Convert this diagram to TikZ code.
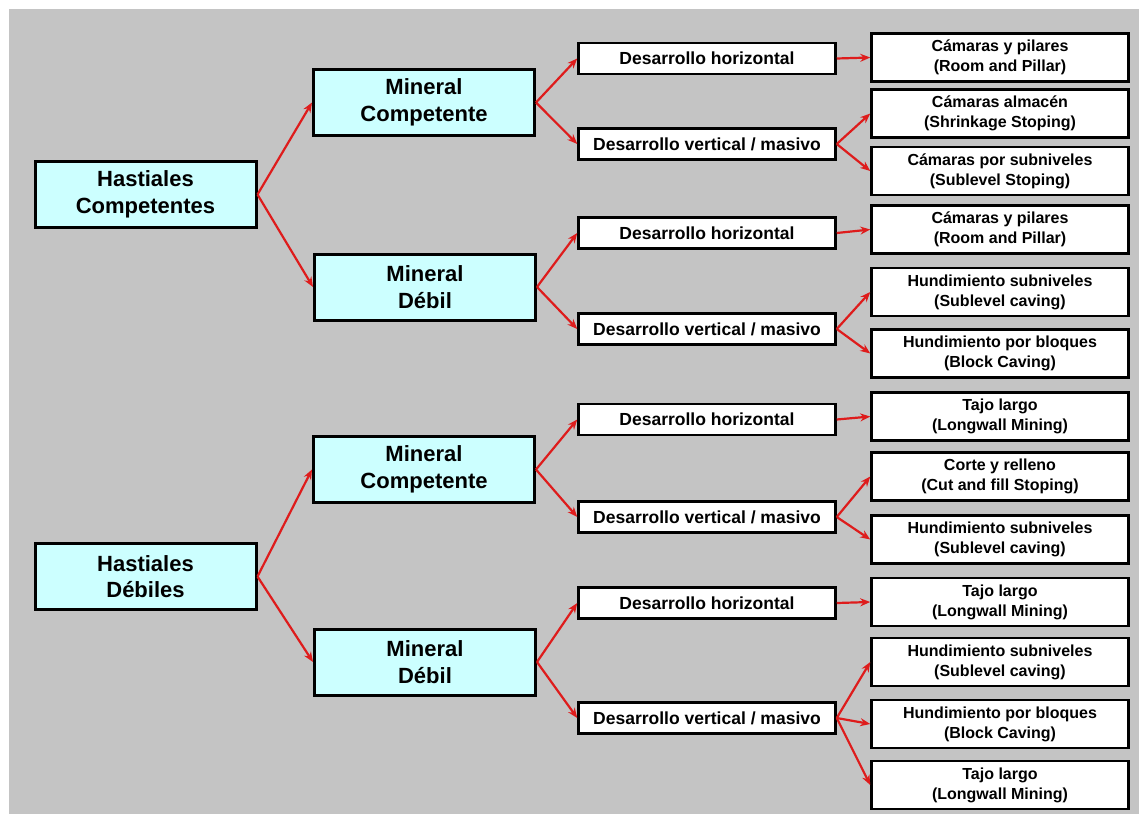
\documentclass[tikz,border=0pt]{standalone}
\usepackage{fontspec}
\setmainfont{Liberation Sans}
\usetikzlibrary{arrows.meta}
\definecolor{bggray}{RGB}{196,196,196}
\definecolor{cyanfill}{RGB}{204,255,255}
\definecolor{arrred}{RGB}{222,28,28}
\begin{document}
\begin{tikzpicture}[x=1pt,y=-1pt,
  big/.style={draw=black, line width=3pt, fill=cyanfill, minimum width=221pt, minimum height=66pt, inner sep=0pt, align=center, font=\fontsize{22}{26.5}\selectfont\bfseries},
  mid/.style={draw=black, line width=2.5pt, fill=white, minimum width=257pt, minimum height=31pt, inner sep=0pt, font=\fontsize{17.5}{20}\selectfont\bfseries},
  fin/.style={draw=black, line width=2.5pt, fill=white, minimum width=257pt, minimum height=48pt, inner sep=0pt, align=center, font=\fontsize{16}{20}\selectfont\bfseries},
  conn/.style={draw=arrred, line width=2.2pt, -{Stealth[length=10pt,width=8pt]}}
]
\useasboundingbox (0,0) rectangle (1139,814);
\fill[white] (0,0) rectangle (1139,814);
\fill[bggray] (9,9) rectangle (1139,814);

% level 1
\node[big] (hc) at (145.5,194.5) {Hastiales\\Competentes};
\node[big] (hd) at (145.5,576.5) {Hastiales\\Débiles};
% level 2
\node[big] (mc1) at (424,102.5) {Mineral\\Competente};
\node[big] (md1) at (425,287) {Mineral\\Débil};
\node[big] (mc2) at (424,469.5) {Mineral\\Competente};
\node[big] (md2) at (425,662) {Mineral\\Débil};
% level 3
\node[mid] (dh1) at (707,58.5) {Desarrollo horizontal};
\node[mid] (dv1) at (707,144) {Desarrollo vertical / masivo};
\node[mid] (dh2) at (707,233) {Desarrollo horizontal};
\node[mid] (dv2) at (707,329) {Desarrollo vertical / masivo};
\node[mid] (dh3) at (707,419.5) {Desarrollo horizontal};
\node[mid] (dv3) at (707,517) {Desarrollo vertical / masivo};
\node[mid] (dh4) at (707,603) {Desarrollo horizontal};
\node[mid] (dv4) at (707,718) {Desarrollo vertical / masivo};
% level 4
\node[fin] (f1) at (1000,57.5) {Cámaras y pilares\\(Room and Pillar)};
\node[fin] (f2) at (1000,113.5) {Cámaras almacén\\(Shrinkage Stoping)};
\node[fin] (f3) at (1000,171) {Cámaras por subniveles\\(Sublevel Stoping)};
\node[fin] (f4) at (1000,229.5) {Cámaras y pilares\\(Room and Pillar)};
\node[fin] (f5) at (1000,292) {Hundimiento subniveles\\(Sublevel caving)};
\node[fin] (f6) at (1000,353.5) {Hundimiento por bloques\\(Block Caving)};
\node[fin] (f7) at (1000,416.5) {Tajo largo\\(Longwall Mining)};
\node[fin] (f8) at (1000,476.5) {Corte y relleno\\(Cut and fill Stoping)};
\node[fin] (f9) at (1000,539.5) {Hundimiento subniveles\\(Sublevel caving)};
\node[fin] (f10) at (1000,602) {Tajo largo\\(Longwall Mining)};
\node[fin] (f11) at (1000,662) {Hundimiento subniveles\\(Sublevel caving)};
\node[fin] (f12) at (1000,724) {Hundimiento por bloques\\(Block Caving)};
\node[fin] (f13) at (1000,785) {Tajo largo\\(Longwall Mining)};

% connectors
\draw[conn] (hc.east) -- (mc1.west);
\draw[conn] (hc.east) -- (md1.west);
\draw[conn] (hd.east) -- (mc2.west);
\draw[conn] (hd.east) -- (md2.west);

\draw[conn] (mc1.east) -- (dh1.west);
\draw[conn] (mc1.east) -- (dv1.west);
\draw[conn] (md1.east) -- (dh2.west);
\draw[conn] (md1.east) -- (dv2.west);
\draw[conn] (mc2.east) -- (dh3.west);
\draw[conn] (mc2.east) -- (dv3.west);
\draw[conn] (md2.east) -- (dh4.west);
\draw[conn] (md2.east) -- (dv4.west);

\draw[conn] (dh1.east) -- (f1.west);
\draw[conn] (dv1.east) -- (f2.west);
\draw[conn] (dv1.east) -- (f3.west);
\draw[conn] (dh2.east) -- (f4.west);
\draw[conn] (dv2.east) -- (f5.west);
\draw[conn] (dv2.east) -- (f6.west);
\draw[conn] (dh3.east) -- (f7.west);
\draw[conn] (dv3.east) -- (f8.west);
\draw[conn] (dv3.east) -- (f9.west);
\draw[conn] (dh4.east) -- (f10.west);
\draw[conn] (dv4.east) -- (f11.west);
\draw[conn] (dv4.east) -- (f12.west);
\draw[conn] (dv4.east) -- (f13.west);
\end{tikzpicture}
\end{document}
